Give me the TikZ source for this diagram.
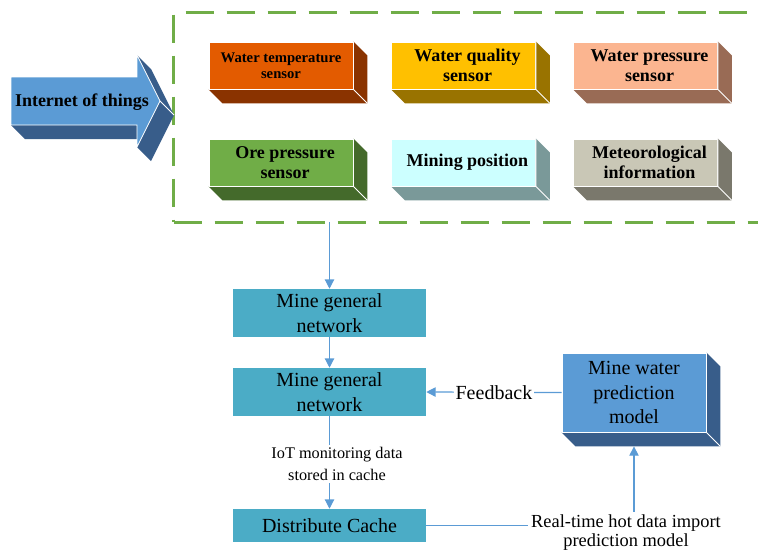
\documentclass[tikz,border=0pt]{standalone}
\usepackage{fontspec}
\setmainfont{Liberation Serif}
\usetikzlibrary{arrows.meta}

\definecolor{arrowfront}{HTML}{5B9BD5}
\definecolor{arrowside}{HTML}{385D8A}
\definecolor{tempfront}{HTML}{E35B00}
\definecolor{tempside}{HTML}{8A3300}
\definecolor{qualfront}{HTML}{FFC000}
\definecolor{qualside}{HTML}{997300}
\definecolor{presfront}{HTML}{FBB590}
\definecolor{presside}{HTML}{996B55}
\definecolor{orefront}{HTML}{70AD47}
\definecolor{oreside}{HTML}{446A2B}
\definecolor{minefront}{HTML}{CCFFFF}
\definecolor{mineside}{HTML}{7A9999}
\definecolor{metfront}{HTML}{C9C7B6}
\definecolor{metside}{HTML}{7A786C}
\definecolor{netfill}{HTML}{4BACC6}
\definecolor{linec}{HTML}{5B9BD5}
\definecolor{framec}{HTML}{70AD47}

% side and bottom faces of an extruded box, behind the front node #1
\newcommand\drawdepth[3]{%
  \fill[#2] (#1.north east) -- ([shift={(#3,#3)}]#1.north east)
    -- ([shift={(#3,#3)}]#1.south east) -- ([shift={(#3,#3)}]#1.south west)
    -- (#1.south west) -- (#1.south east) -- cycle;
  \draw[white, line width=0.6pt] (#1.south west) -- (#1.south east) -- (#1.north east)
    (#1.south east) -- ([shift={(#3,#3)}]#1.south east);
}

\begin{document}
\begin{tikzpicture}[x=0.75pt, y=-0.75pt,
  sensor/.style={draw=white, line width=0.6pt, minimum width=108pt, minimum height=35.25pt,
    inner sep=0pt, align=center, font=\bfseries\fontsize{13.5}{15}\selectfont},
  flowbox/.style={fill=netfill, minimum width=144.75pt, inner sep=0pt, align=center,
    font=\fontsize{15}{18.75}\selectfont},
  conn/.style={draw=linec, line width=0.9pt, -{Triangle[length=7pt,width=7pt]}},
  plainline/.style={draw=linec, line width=0.9pt},
  framedash/.style={draw=framec, line width=2pt, dash pattern=on 21pt off 9.75pt},
]
\useasboundingbox (0,0) rectangle (758,550);

% ---- dashed frame round the sensors (runs off to the right)
\node[minimum width=450.75pt, minimum height=156.75pt, inner sep=0pt] (frame) at (474.5,117.5) {};
\draw[framedash, dash phase=21.75pt] (frame.north west) -- (frame.north east);
\draw[framedash, dash phase=29.25pt] (frame.north west) -- (frame.south west);
\draw[framedash] (frame.south west) -- (frame.south east);

% ---- extruded arrow "Internet of things"
\fill[arrowside] (11,125) -- (25,139) -- (137,139) -- (137,147) -- (151,161)
  -- (174,115) -- (151,69) -- (137,55) -- (137,125) -- cycle;
\draw[fill=arrowfront, draw=white, line width=0.6pt]
  (11,77) -- (137,77) -- (137,55) -- (160,101) -- (137,147) -- (137,125) -- (11,125) -- cycle;
\draw[white, line width=0.6pt] (160,101) -- (174,115);
\node[font=\bfseries\fontsize{13.5}{15}\selectfont, inner sep=0pt] (iot) at (82,102) {Internet of things};

% ---- sensor boxes
\node[sensor, fill=tempfront, font=\bfseries\fontsize{11}{12}\selectfont] (wt) at (281,65.5) {Water temperature\\sensor};
\drawdepth{wt}{tempside}{14}
\node[sensor, fill=qualfront] (wq) at (463.5,65.5) {\hspace*{6pt}Water quality\\\hspace*{6pt}sensor};
\drawdepth{wq}{qualside}{14}
\node[sensor, fill=presfront] (wp) at (645.5,65.5) {\hspace*{6pt}Water pressure\\\hspace*{6pt}sensor};
\drawdepth{wp}{presside}{14}
\node[sensor, fill=orefront] (op) at (281,162.5) {\hspace*{6pt}Ore pressure\\\hspace*{6pt}sensor};
\drawdepth{op}{oreside}{14}
\node[sensor, fill=minefront] (mp) at (463.5,162.5) {\hspace*{6pt}Mining position};
\drawdepth{mp}{mineside}{14}
\node[sensor, fill=metfront] (mi) at (645.5,162.5) {\hspace*{6pt}Meteorological\\\hspace*{6pt}information};
\drawdepth{mi}{metside}{14}

% ---- processing chain
\node[flowbox, minimum height=36pt] (net1) at (329.5,313) {Mine general\\network};
\node[flowbox, minimum height=36pt] (net2) at (329.5,392) {Mine general\\network};
\node[flowbox, minimum height=24.75pt] (cache) at (329.5,525.5) {Distribute Cache};

\node[draw=white, line width=0.6pt, fill=arrowfront, minimum width=108pt, minimum height=59.25pt,
  inner sep=0pt, align=center, font=\fontsize{15}{18.4}\selectfont] (model) at (634,392.5)
  {Mine water\\prediction\\model};
\drawdepth{model}{arrowside}{14}

\draw[conn] (frame.south -| net1.north) -- (net1);
\draw[conn] (net1) -- (net2);
\draw[conn] (net2) -- (cache);
\node[fill=white, inner sep=2pt, align=center, font=\fontsize{12.2}{16.2}\selectfont] (iotlbl) at (337,464)
  {IoT monitoring data\\stored in cache};

\draw[conn] (model.west) -- node[fill=white, inner sep=1.5pt, font=\fontsize{15}{16}\selectfont] (fb) {Feedback} (net2.east);

\node[inner sep=2pt, align=center, font=\fontsize{13.8}{14.4}\selectfont] (rt) at (626,532.5)
  {Real-time hot data import\\prediction model};
\draw[plainline] (cache.east) -- (cache.east -| rt.west);
\draw[conn] (rt.north -| model.south) -- ([yshift=-10.5pt]model.south);
\end{tikzpicture}
\end{document}
